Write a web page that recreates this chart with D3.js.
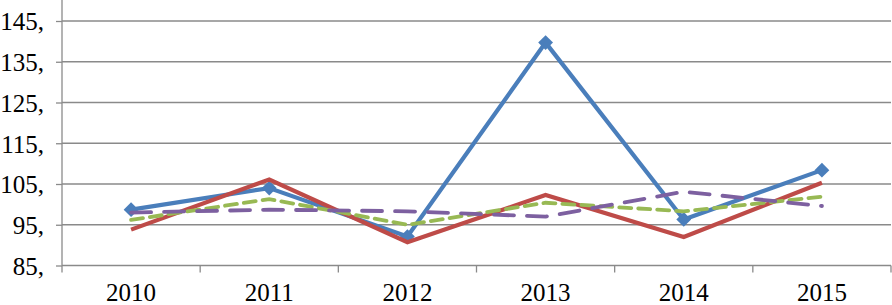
<!DOCTYPE html>
<html>
<head>
<meta charset="utf-8">
<script src="https://cdn.jsdelivr.net/npm/d3@7"></script>
<style>
  html, body { margin: 0; padding: 0; background: #fff; overflow: hidden; }
</style>
</head>
<body>
<div id="chart"></div>
<script>
// Data
const years = ["2010", "2011", "2012", "2013", "2014", "2015"];
const yTicks = [85, 95, 105, 115, 125, 135, 145];
const seriesBlue = [98.7, 104.0, 92.1, 139.7, 96.3, 108.4];
const seriesRed = [93.8, 106.1, 90.7, 102.3, 92.0, 105.3];
const seriesGreen = [96.2, 101.3, 95.0, 100.4, 98.3, 101.9];
const seriesPurple = [98.0, 98.7, 98.3, 97.0, 103.1, 99.6];

const FONT = "Liberation Serif, DejaVu Serif, Times New Roman, serif";

const W = 892, H = 305;
const svg = d3.select("#chart")
    .append("svg")
    .attr("width", W)
    .attr("height", H);

// Scales
const x = d3.scaleBand()
    .domain(years)
    .range([62, 891]);

const y = d3.scaleLinear()
    .domain([85, 145])
    .range([265.5, 21]);

// Gridlines
svg.append("g")
    .selectAll("line")
    .data(yTicks.slice(1))
    .enter()
    .append("line")
    .attr("x1", 62)
    .attr("x2", 891)
    .attr("y1", d => y(d))
    .attr("y2", d => y(d))
    .attr("stroke", "#8a8a8a")
    .attr("stroke-width", 1.3);

// Y axis
const yAxis = svg.append("g")
    .attr("transform", "translate(62,0)")
    .call(d3.axisLeft(y).tickValues(yTicks).tickSize(6).tickPadding(12)
        .tickFormat(d => d + ","));
yAxis.select(".domain").remove();
yAxis.append("line")
    .attr("x1", 0).attr("x2", 0)
    .attr("y1", 0).attr("y2", y(85))
    .attr("stroke", "#8a8a8a").attr("stroke-width", 1.3);
yAxis.selectAll(".tick line").attr("stroke", "#8a8a8a").attr("stroke-width", 1.3);
yAxis.selectAll("text")
    .style("font-family", FONT)
    .style("font-size", "25px")
    .attr("fill", "#000")
    .attr("dy", "0.35em");

// X axis
const xAxis = svg.append("g")
    .attr("transform", `translate(0,${y(85)})`)
    .call(d3.axisBottom(x).tickSize(0).tickPadding(18));
xAxis.select(".domain")
    .attr("d", `M62,0H891`)
    .attr("stroke", "#8a8a8a").attr("stroke-width", 1.3);
xAxis.selectAll("text")
    .style("font-family", FONT)
    .style("font-size", "25px")
    .attr("fill", "#000");
// tick marks between categories
const bounds = years.map(d => x(d)).concat([x(years[years.length - 1]) + x.bandwidth()]);
xAxis.append("g")
    .selectAll("line")
    .data(bounds)
    .enter()
    .append("line")
    .attr("x1", d => d).attr("x2", d => d)
    .attr("y1", 0).attr("y2", 7)
    .attr("stroke", "#8a8a8a").attr("stroke-width", 1.3);

const cx = d => x(d) + x.bandwidth() / 2;

const series = [
    { values: seriesBlue, color: "#4a7ebb", width: 4.2, dash: null, marker: true },
    { values: seriesRed, color: "#be4b48", width: 4.2, dash: null, marker: false },
    { values: seriesGreen, color: "#98b954", width: 3.8, dash: "12,7", marker: false },
    { values: seriesPurple, color: "#7d60a0", width: 3.8, dash: "20,13", marker: false }
];

const line = d3.line()
    .x((d, i) => cx(years[i]))
    .y(d => y(d));

series.forEach(s => {
    svg.append("path")
        .datum(s.values)
        .attr("d", line)
        .attr("fill", "none")
        .attr("stroke", s.color)
        .attr("stroke-width", s.width)
        .attr("stroke-linejoin", "miter")
        .attr("stroke-linecap", s.dash ? "round" : "butt")
        .attr("stroke-dasharray", s.dash);

    if (s.marker) {
        svg.append("g")
            .selectAll("path")
            .data(s.values)
            .enter()
            .append("path")
            .attr("transform", (d, i) => `translate(${cx(years[i])},${y(d)})`)
            .attr("d", d3.symbol().type(d3.symbolDiamond2).size(140))
            .attr("fill", s.color);
    }
});
</script>
</body>
</html>
